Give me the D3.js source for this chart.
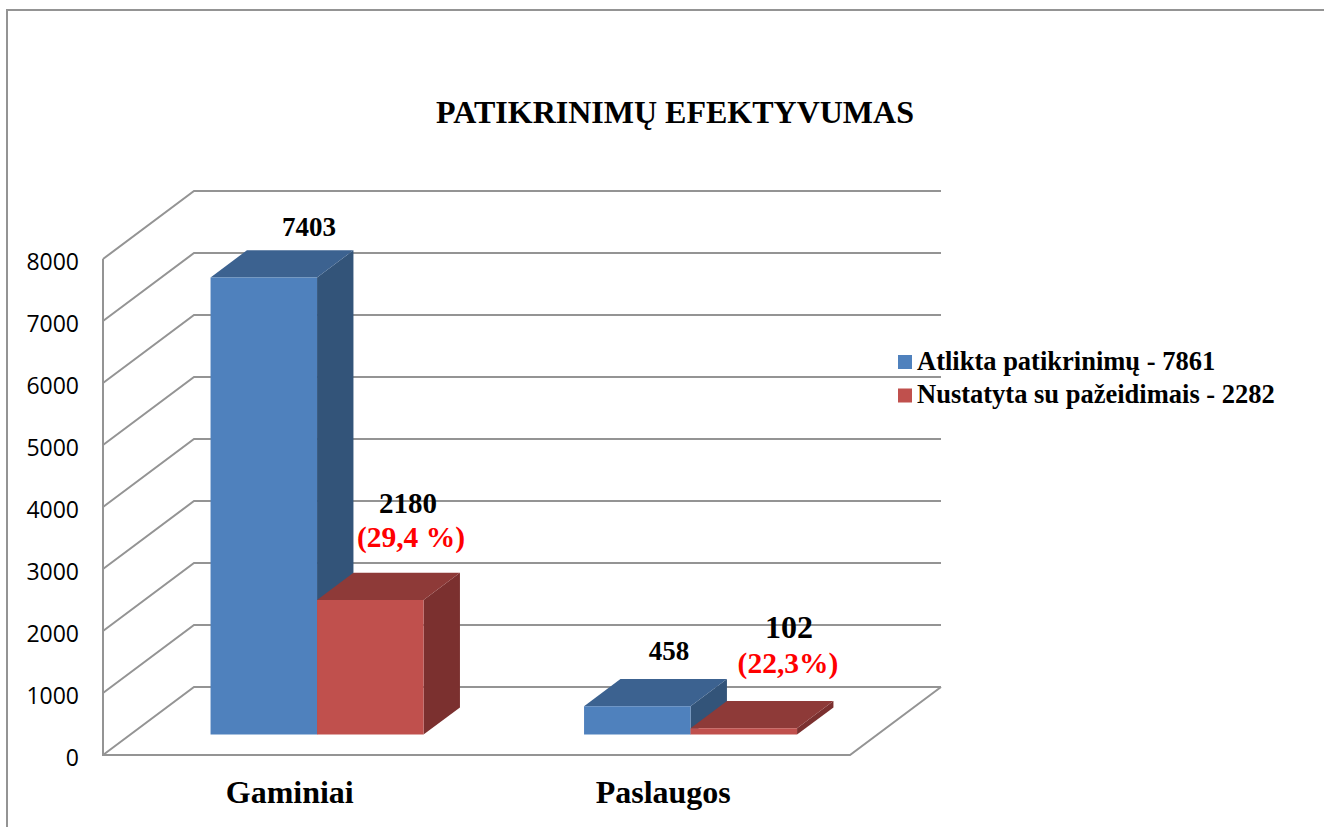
<!DOCTYPE html>
<html>
<head>
<meta charset="utf-8">
<script src="https://cdn.jsdelivr.net/npm/d3@7"></script>
<style>
  body { margin: 0; background: #fff; }
  text { font-family: "Liberation Serif", serif; font-weight: bold; }
</style>
</head>
<body>
<script>
const categories = ["Gaminiai", "Paslaugos"];
const seriesNames = ["Atlikta patikrinimų - 7861", "Nustatyta su pažeidimais - 2282"];
const checksDone = [7403, 458];
const withViolations = [2180, 102];
const violationShare = ["(29,4 %)", "(22,3%)"];
const yTicks = [0, 1000, 2000, 3000, 4000, 5000, 6000, 7000, 8000];
const titleText = "PATIKRINIMŲ EFEKTYVUMAS";

const front = "#4f81bd", frontTop = "#3c6290", frontSide = "#335479";
const red = "#c0504d", redTop = "#8e3a38", redSide = "#7b302f";
const gridColor = "#949494";

const svg = d3.select("body").append("svg")
    .attr("width", 1324)
    .attr("height", 827)
    .style("display", "block");

// chart frame, runs off the right and bottom of the photo
svg.append("path")
    .attr("d", "M7,827V10H1324")
    .attr("fill", "none")
    .attr("stroke", gridColor)
    .attr("stroke-width", 2);

svg.append("text")
    .attr("x", 675).attr("y", 123)
    .attr("text-anchor", "middle")
    .attr("font-size", 32)
    .text(titleText);

// the scales describe the front plane, depth is an oblique offset
const x = d3.scaleBand().domain(categories).range([103, 850]);
const y = d3.scaleLinear().domain([0, 8000]).range([755, 259]);
const barHeight = d3.scaleLinear().domain([0, 8000]).range([0, 494]);
const dx = d3.scaleLinear().domain([0, 1]).range([0, 91]);
const dy = d3.scaleLinear().domain([0, 1]).range([0, -68]);
const pt = (px, py, z) => [px + dx(z), py + dy(z)];
const poly = pts => "M" + pts.map(p => p.join(",")).join("L") + "Z";

const grid = svg.append("g")
    .attr("fill", "none")
    .attr("stroke", gridColor)
    .attr("stroke-width", 2);

yTicks.forEach(t => {
    const a = pt(x.range()[0], y(t), 0), b = pt(x.range()[0], y(t), 1), c = pt(x.range()[1], y(t), 1);
    grid.append("path").attr("d", d3.line()([a, b, c]));
});
grid.append("path").attr("d", d3.line()([
    pt(x.range()[0], y(8000), 0), pt(x.range()[0], y(0), 0), pt(x.range()[1], y(0), 0), pt(x.range()[1], y(0), 1)
]));

// tick labels
const axis = d3.axisLeft(y).tickValues(yTicks).tickSize(0).tickPadding(24).tickFormat(d3.format("d"));
svg.append("g")
    .attr("transform", `translate(${x.range()[0]},3)`)
    .call(axis)
    .call(g => g.select(".domain").remove())
    .selectAll("text")
    .style("font-family", "'Open Sans', sans-serif")
    .style("font-weight", "normal")
    .attr("font-size", 23)
    .attr("fill", "#000");

// bar sits 0.3 into the floor and is 0.4 deep
const z0 = 0.3, z1 = 0.7, halfBar = 106.5;

function drawBar(x0, x1, v, cFront, cTop, cSide) {
    const g = svg.append("g");
    const base = y(0), top = y(0) - barHeight(v);
    g.append("path").attr("fill", cSide).attr("d", poly([
        pt(x1, base, z0), pt(x1, base, z1), pt(x1, top, z1), pt(x1, top, z0)
    ]));
    g.append("path").attr("fill", cTop).attr("d", poly([
        pt(x0, top, z0), pt(x1, top, z0), pt(x1, top, z1), pt(x0, top, z1)
    ]));
    g.append("path").attr("fill", cFront).attr("d", poly([
        pt(x0, base, z0), pt(x1, base, z0), pt(x1, top, z0), pt(x0, top, z0)
    ]));
}

categories.forEach((c, i) => {
    const cx = x(c) + x.bandwidth() / 2;
    drawBar(cx - halfBar, cx, checksDone[i], front, frontTop, frontSide);
    drawBar(cx, cx + halfBar, withViolations[i], red, redTop, redSide);

    svg.append("text")
        .attr("x", cx).attr("y", 803)
        .attr("text-anchor", "middle")
        .attr("font-size", 32)
        .text(c);
});

// value labels, hand placed in the original
const labelX = [309, 669];
const labelY = [236, 660];
svg.selectAll(".v1").data(checksDone).join("text")
    .attr("x", (d, i) => labelX[i]).attr("y", (d, i) => labelY[i])
    .attr("text-anchor", "middle")
    .attr("font-size", 27)
    .text(d => d);

const label2X = [408, 789];
const label2Y = [513, 638];
const label2Size = [29, 32];
svg.selectAll(".v2").data(withViolations).join("text")
    .attr("x", (d, i) => label2X[i]).attr("y", (d, i) => label2Y[i])
    .attr("text-anchor", "middle")
    .attr("font-size", (d, i) => label2Size[i])
    .text(d => d);

const shareX = [411, 788];
const shareY = [547, 673];
svg.selectAll(".share").data(violationShare).join("text")
    .attr("x", (d, i) => shareX[i]).attr("y", (d, i) => shareY[i])
    .attr("text-anchor", "middle")
    .attr("font-size", 29.5)
    .attr("fill", "#ff0000")
    .text(d => d);

// legend
const legend = svg.selectAll(".legend").data(seriesNames).join("g")
    .attr("transform", (d, i) => `translate(898,${355 + i * 33.5})`);
legend.append("rect")
    .attr("width", 14).attr("height", 14)
    .attr("fill", (d, i) => [front, red][i]);
legend.append("text")
    .attr("x", 19).attr("y", 14.5)
    .attr("font-size", 26.5)
    .text(d => d);
</script>
</body>
</html>
